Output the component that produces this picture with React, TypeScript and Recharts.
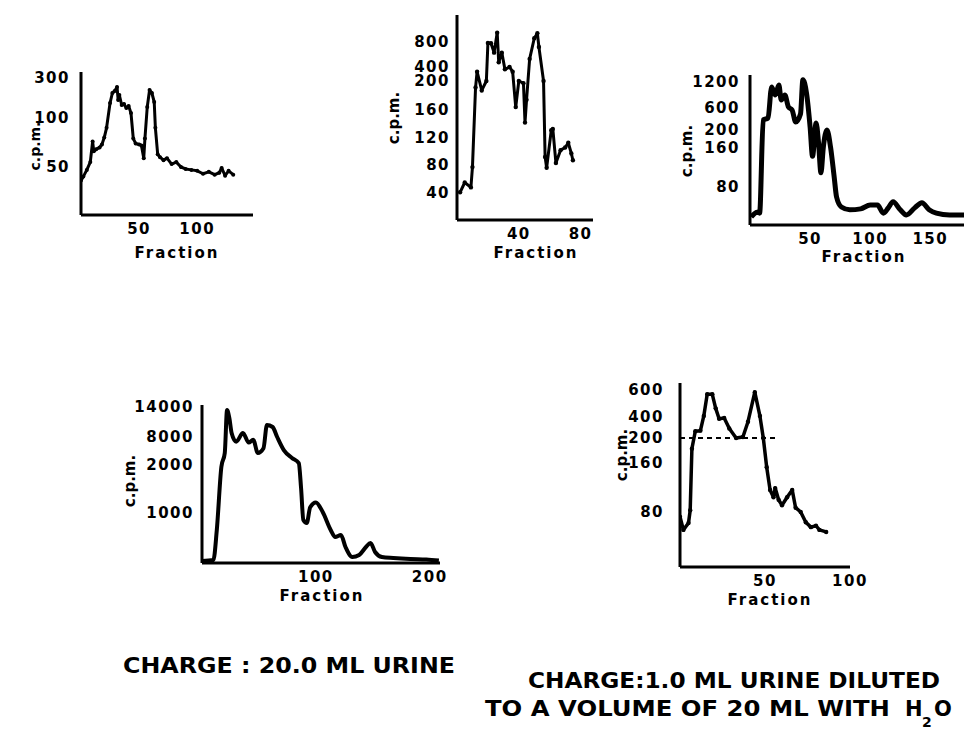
import React from "react";
import { LineChart, Line, XAxis, YAxis, ReferenceLine } from "recharts";

// top left: 20 ml urine
const aFraction = [0, 2, 5, 8, 10, 11, 13, 16, 18, 20, 22, 25, 27, 29, 31, 32, 33, 35, 37, 39, 41, 43, 45, 47, 50, 52, 54, 55, 57, 59, 61, 63, 64, 66, 68, 71, 74, 78, 82, 86, 90, 95, 100, 105, 110, 115, 119, 121, 124, 127, 131];
const aCpm = [36, 40, 47, 55, 76, 66, 68, 70, 73, 80, 90, 175, 225, 235, 255, 190, 215, 165, 170, 150, 160, 125, 79, 74, 73, 72, 59, 79, 155, 240, 225, 180, 90, 63, 60, 57, 59, 53, 55, 50, 48, 47, 46, 43, 45, 42, 44, 49, 41, 46, 42];
const aAxisCpm = [0, 50, 100, 300];
const aAxisRise = [0, 48, 97, 137];
const aFractionTicks = [50, 100];

// top middle
const bFraction = [2, 5, 9, 10, 12, 13, 16, 19, 20, 22, 24, 26, 27, 29, 31, 34, 36, 38, 40, 43, 44, 45, 47, 50, 52, 53, 56, 57, 58, 61, 62, 64, 67, 70, 72, 74, 75];
const bCpm = [41, 55, 48, 77, 191, 333, 187, 200, 785, 780, 630, 950, 477, 630, 367, 400, 333, 164, 200, 197, 142, 174, 530, 860, 940, 720, 200, 92, 76, 131, 133, 83, 102, 106, 113, 97, 87];
const bAxisCpm = [0, 40, 80, 120, 160, 200, 400, 800];
const bAxisRise = [0, 27, 55, 82, 110, 139, 153, 178];
const bFractionTicks = [40, 80];

// top right
const cFraction = [1, 6, 8, 11, 15, 18, 21, 24, 26, 29, 32, 35, 38, 42, 44, 47, 50, 52, 55, 57, 59, 61, 64, 67, 70, 72, 76, 83, 92, 100, 106, 111, 115, 119, 125, 130, 137, 143, 149, 155, 166, 178];
const cCpm = [17, 27, 25, 382, 418, 1085, 900, 1130, 785, 900, 623, 564, 345, 490, 1250, 945, 255, 143, 327, 172, 109, 162, 200, 162, 101, 59, 38, 32, 34, 42, 42, 25, 36, 49, 32, 21, 36, 47, 32, 25, 21, 21];
const cAxisCpm = [0, 80, 160, 200, 600, 1200];
const cAxisRise = [0, 38, 77, 95, 117, 143];
const cFractionTicks = [50, 100, 150];

// bottom left: charge 20.0 ml urine
const dFraction = [0, 10, 13, 17, 20, 22, 24, 26, 30, 36, 41, 45, 49, 54, 57, 62, 66, 72, 79, 85, 87, 89, 92, 95, 100, 106, 113, 117, 122, 126, 132, 138, 144, 148, 152, 158, 168, 183, 197, 208];
const dCpm = [40, 60, 660, 1960, 4570, 13400, 11800, 8800, 7000, 8800, 6800, 7400, 4570, 5600, 10400, 10000, 8000, 5140, 3500, 2400, 1520, 860, 800, 1120, 1220, 1020, 660, 520, 560, 320, 120, 160, 320, 400, 220, 120, 100, 80, 70, 50];
const dAxisCpm = [0, 1000, 2000, 8000, 14000];
const dAxisRise = [0, 50, 98, 126, 156];
const dFractionTicks = [100, 200];

// bottom right: charge 1.0 ml urine diluted
const eFraction = [0, 2, 5, 6, 7, 9, 12, 14, 16, 19, 21, 23, 26, 29, 33, 37, 40, 44, 47, 49, 51, 53, 55, 56, 58, 60, 63, 66, 68, 71, 74, 77, 80, 82, 86];
const eCpm = [73, 54, 64, 83, 183, 264, 270, 408, 568, 568, 464, 383, 390, 290, 200, 210, 355, 584, 408, 200, 153, 116, 104, 119, 100, 91, 104, 116, 87, 80, 65, 58, 60, 54, 51];
const eAxisCpm = [0, 80, 160, 200, 400, 600];
const eAxisRise = [0, 55, 104, 129, 150, 177];
const eFractionTicks = [50, 100];
const eDashedCpm = 200;
const eDashedTo = 57;

const FONT = '"DejaVu Sans", Verdana, sans-serif';
const tickStyle = { fontSize: 15, fontWeight: 700, fill: "#000", fontFamily: FONT, letterSpacing: 1.5 };

const YW = 80;
const XH = 50;
const ML = 20;
const MT = 14;
const MR = 24;
const MB = 4;

// the axes are broken: each labelled value sits at its own height
function makeRise(cpm: number[], rise: number[]) {
  return (v: number) => {
    let i = 1;
    while (i < cpm.length - 1 && v > cpm[i]) i++;
    const t = (v - cpm[i - 1]) / (cpm[i] - cpm[i - 1]);
    return rise[i - 1] + t * (rise[i] - rise[i - 1]);
  };
}

type PanelProps = {
  plot: { left: number; top: number; right: number; bottom: number };
  fraction: number[];
  cpm: number[];
  axisCpm: number[];
  axisRise: number[];
  xMax: number;
  xTicks: number[];
  tickGap: number;
  yTitle: { dx: number; dy: number; size: number };
  xTitle: { dx: number; dy: number };
  lineWidth: number;
  dotR: number;
  curve: "linear" | "monotone";
  dash?: { cpm: number; to: number };
};

function Panel(p: PanelProps) {
  const plotW = p.plot.right - p.plot.left;
  const plotH = p.plot.bottom - p.plot.top;
  const width = ML + YW + plotW + MR;
  const height = MT + plotH + XH + MB;
  const rise = makeRise(p.axisCpm, p.axisRise);
  const rows = p.fraction.map((f, i) => ({ frac: f, rise: rise(p.cpm[i]) }));
  const labelOf = new Map(p.axisRise.map((r, i) => [r, String(p.axisCpm[i])]));
  const ox = ML + YW;

  const yLabel = () => {
    const x = ox + p.yTitle.dx;
    const y = MT + p.yTitle.dy;
    return (
      <text x={x} y={y} transform={`rotate(-90 ${x} ${y})`} textAnchor="middle" dominantBaseline="central"
        fontFamily={FONT} fontWeight={700} fontSize={p.yTitle.size} fill="#000">
        c.p.m.
      </text>
    );
  };
  const xLabel = () => (
    <text x={ox + p.xTitle.dx} y={MT + plotH + p.xTitle.dy} textAnchor="middle" dominantBaseline="central"
      fontFamily={FONT} fontWeight={700} fontSize={15} letterSpacing={2} fill="#000">
      Fraction
    </text>
  );

  return (
    <div style={{ position: "absolute", left: p.plot.left - ox, top: p.plot.top - MT }}>
      <LineChart width={width} height={height} data={rows} margin={{ top: MT, right: MR, bottom: MB, left: ML }}>
        <XAxis type="number" dataKey="frac" domain={[0, p.xMax]} ticks={p.xTicks} interval={0} allowDataOverflow
          height={XH} tickLine={false} axisLine={{ stroke: "#000", strokeWidth: 3 }} tick={tickStyle}
          label={{ content: xLabel }} />
        <YAxis type="number" domain={[0, plotH]} ticks={p.axisRise.slice(1)} interval={0} allowDataOverflow
          width={YW} tickLine={false} tickMargin={Math.max(0, p.tickGap - 6)}
          tickFormatter={(v: number) => labelOf.get(v) ?? ""}
          axisLine={{ stroke: "#000", strokeWidth: 3 }} tick={tickStyle} label={{ content: yLabel }} />
        {p.dash && (
          <ReferenceLine segment={[{ x: 0, y: rise(p.dash.cpm) }, { x: p.dash.to, y: rise(p.dash.cpm) }]}
            stroke="#000" strokeWidth={2} strokeDasharray="5 4" />
        )}
        <Line type={p.curve} dataKey="rise" stroke="#000" strokeWidth={p.lineWidth} strokeLinejoin="round"
          dot={p.dotR ? { r: p.dotR, fill: "#000", stroke: "none" } : false} isAnimationActive={false} />
      </LineChart>
    </div>
  );
}

export default function App() {
  return (
    <div style={{ position: "absolute", left: 0, top: 0, width: 965, height: 732, overflow: "hidden", background: "#fff" }}>
      <Panel plot={{ left: 81, top: 72, right: 253, bottom: 215 }} fraction={aFraction} cpm={aCpm}
        axisCpm={aAxisCpm} axisRise={aAxisRise} xMax={148} xTicks={aFractionTicks} tickGap={11}
        yTitle={{ dx: -46, dy: 74, size: 14 }} xTitle={{ dx: 96, dy: 38 }} lineWidth={3} dotR={2} curve="linear" />
      <Panel plot={{ left: 457, top: 15, right: 593, bottom: 220 }} fraction={bFraction} cpm={bCpm}
        axisCpm={bAxisCpm} axisRise={bAxisRise} xMax={88} xTicks={bFractionTicks} tickGap={7}
        yTitle={{ dx: -63, dy: 103, size: 15 }} xTitle={{ dx: 79, dy: 33 }} lineWidth={3} dotR={2.2} curve="linear" />
      <Panel plot={{ left: 750, top: 75, right: 964, bottom: 225 }} fraction={cFraction} cpm={cCpm}
        axisCpm={cAxisCpm} axisRise={cAxisRise} xMax={178} xTicks={cFractionTicks} tickGap={10}
        yTitle={{ dx: -63, dy: 76, size: 15 }} xTitle={{ dx: 114, dy: 32 }} lineWidth={5} dotR={0} curve="monotone" />
      <Panel plot={{ left: 202, top: 405, right: 440, bottom: 563 }} fraction={dFraction} cpm={dCpm}
        axisCpm={dAxisCpm} axisRise={dAxisRise} xMax={209} xTicks={dFractionTicks} tickGap={8}
        yTitle={{ dx: -72, dy: 76, size: 15 }} xTitle={{ dx: 120, dy: 33 }} lineWidth={4} dotR={0} curve="monotone" />
      <Panel plot={{ left: 680, top: 383, right: 850, bottom: 567 }} fraction={eFraction} cpm={eCpm}
        axisCpm={eAxisCpm} axisRise={eAxisRise} xMax={100} xTicks={eFractionTicks} tickGap={16}
        yTitle={{ dx: -58, dy: 72, size: 15 }} xTitle={{ dx: 90, dy: 33 }} lineWidth={3.5} dotR={2.2} curve="linear"
        dash={{ cpm: eDashedCpm, to: eDashedTo }} />
      <svg width={965} height={732} style={{ position: "absolute", left: 0, top: 0, pointerEvents: "none" }}>
        <g fontFamily={FONT} fontWeight={700} fill="#000">
          <text x={123} y={673} fontSize={21} textLength={332} lengthAdjust="spacingAndGlyphs">CHARGE : 20.0 ML URINE</text>
          <text x={528} y={688} fontSize={21} textLength={412} lengthAdjust="spacingAndGlyphs">CHARGE:1.0 ML URINE DILUTED</text>
          <text x={485} y={716} fontSize={21} textLength={405} lengthAdjust="spacingAndGlyphs">TO A VOLUME OF 20 ML WITH</text>
          <text x={905} y={716} fontSize={21}>H</text>
          <text x={922} y={727} fontSize={14}>2</text>
          <text x={934} y={716} fontSize={21}>O</text>
        </g>
      </svg>
    </div>
  );
}
